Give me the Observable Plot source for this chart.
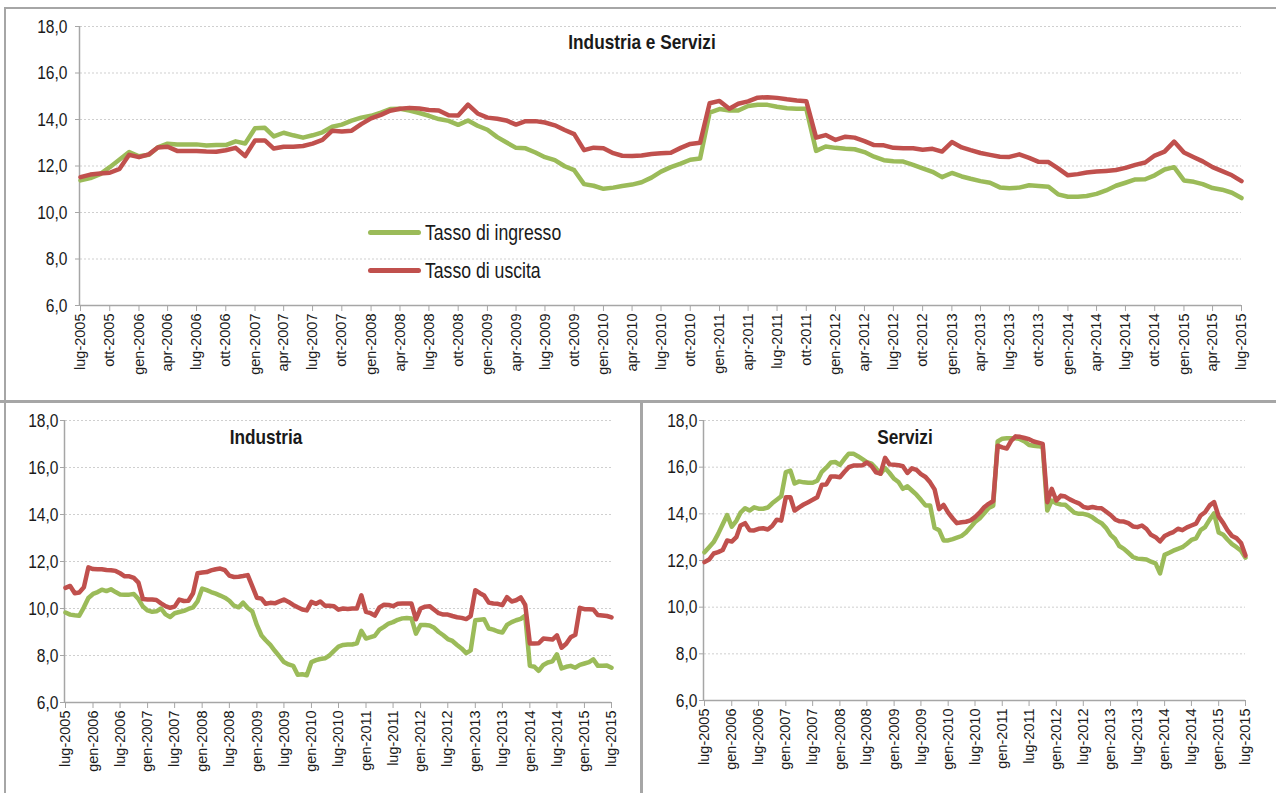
<!DOCTYPE html>
<html>
<head>
<meta charset="utf-8">
<script src="https://cdn.jsdelivr.net/npm/d3@7"></script>
<script src="https://cdn.jsdelivr.net/npm/@observablehq/plot@0.6"></script>
<style>
  html, body { margin:0; padding:0; background:#fff; }
  body { width:1276px; height:793px; overflow:hidden; position:relative; font-family:"Liberation Sans", Arial, sans-serif; }
  .rule { position:absolute; background:#a6a6a6; }
  .chart { position:absolute; }
  .title { position:absolute; font-family:"Liberation Sans Narrow","Arial Narrow","Liberation Sans",sans-serif; font-weight:bold; font-size:21px; color:#1a1a1a; transform:translate(-50%,-50%) scaleX(0.82); white-space:nowrap; }
  .legline { position:absolute; height:5px; border-radius:2.5px; }
  .legtext { position:absolute; font-family:"Liberation Sans Narrow","Arial Narrow","Liberation Sans",sans-serif; font-size:21.5px; color:#1a1a1a; transform-origin:0 50%; transform:translateY(-50%) scaleX(0.82); white-space:nowrap; }
</style>
</head>
<body>
<script>
// ---- Categories / tick labels ----
const monthAbbr = ["gen","feb","mar","apr","mag","giu","lug","ago","set","ott","nov","dic"];
const months = d3.utcMonth.range(new Date(Date.UTC(2005, 6, 1)), new Date(Date.UTC(2015, 7, 1))); // lug-2005 .. lug-2015
const yTicks = [6, 8, 10, 12, 14, 16, 18];
const panelTitles = ["Industria e Servizi", "Industria", "Servizi"];
const seriesNames = ["Tasso di ingresso", "Tasso di uscita"];
const seriesColors = ["#9bbb59", "#c0504d"];

// ---- Industria e Servizi ----
const totIngresso = [
 11.38,11.48,11.65,11.95,12.28,12.60,12.42,12.48,12.80,12.96,12.92,12.93,12.93,12.88,12.90,12.90,13.06,12.97,13.62,13.64,
 13.27,13.43,13.32,13.22,13.32,13.45,13.69,13.78,13.95,14.08,14.16,14.30,14.45,14.46,14.38,14.28,14.16,14.02,13.94,13.77,
 13.96,13.73,13.56,13.24,13.02,12.78,12.76,12.58,12.38,12.25,11.99,11.82,11.22,11.15,11.02,11.07,11.14,11.20,11.30,11.50,
 11.76,11.95,12.10,12.27,12.32,14.30,14.45,14.39,14.39,14.58,14.63,14.63,14.55,14.48,14.46,14.46,12.65,12.84,12.78,12.74,
 12.72,12.60,12.40,12.25,12.20,12.19,12.05,11.90,11.75,11.52,11.70,11.55,11.45,11.35,11.28,11.08,11.04,11.07,11.17,11.14,
 11.11,10.78,10.68,10.68,10.71,10.80,10.95,11.15,11.28,11.42,11.43,11.60,11.85,11.95,11.38,11.32,11.22,11.05,10.98,10.85,
 10.62];
const totUscita = [
 11.52,11.63,11.68,11.71,11.88,12.48,12.38,12.50,12.80,12.83,12.65,12.64,12.64,12.62,12.61,12.68,12.78,12.43,13.10,13.10,
 12.75,12.83,12.83,12.86,12.96,13.12,13.52,13.48,13.52,13.80,14.05,14.20,14.38,14.46,14.50,14.47,14.41,14.39,14.18,14.17,
 14.64,14.26,14.08,14.03,13.96,13.78,13.93,13.93,13.87,13.75,13.55,13.37,12.68,12.79,12.76,12.55,12.44,12.43,12.45,12.52,
 12.55,12.57,12.78,12.95,13.00,14.70,14.80,14.46,14.68,14.78,14.94,14.96,14.93,14.87,14.82,14.79,13.22,13.33,13.12,13.26,
 13.22,13.07,12.90,12.89,12.78,12.76,12.76,12.70,12.74,12.62,13.03,12.80,12.68,12.56,12.48,12.40,12.39,12.50,12.35,12.18,
 12.17,11.90,11.60,11.65,11.72,11.76,11.79,11.83,11.92,12.05,12.15,12.45,12.62,13.05,12.58,12.38,12.20,11.95,11.78,11.60,
 11.35];

// ---- Industria ----
const indIngresso = [
 9.83,9.74,9.71,9.69,10.05,10.45,10.62,10.70,10.80,10.74,10.82,10.70,10.60,10.59,10.59,10.62,10.40,10.08,9.92,9.86,
 9.88,10.00,9.75,9.64,9.80,9.85,9.90,9.98,10.05,10.30,10.85,10.78,10.70,10.63,10.55,10.46,10.33,10.12,10.05,10.25,
 10.02,9.88,9.30,8.85,8.65,8.45,8.20,7.96,7.72,7.62,7.56,7.18,7.20,7.16,7.72,7.80,7.85,7.88,8.00,8.20,
 8.38,8.45,8.47,8.47,8.52,9.05,8.72,8.78,8.84,9.10,9.22,9.36,9.42,9.52,9.58,9.60,9.58,8.93,9.30,9.30,
 9.28,9.18,9.00,8.86,8.70,8.62,8.45,8.30,8.10,8.22,9.50,9.52,9.54,9.15,9.10,9.02,8.98,9.30,9.42,9.50,
 9.56,9.70,7.56,7.52,7.35,7.60,7.70,7.75,8.05,7.45,7.52,7.56,7.48,7.60,7.66,7.72,7.84,7.56,7.56,7.57,
 7.48];
const indUscita = [
 10.88,10.96,10.65,10.68,10.90,11.75,11.68,11.67,11.67,11.64,11.63,11.60,11.50,11.37,11.37,11.30,11.10,10.40,10.38,10.38,
 10.36,10.22,10.10,10.03,10.08,10.38,10.32,10.33,10.65,11.50,11.53,11.55,11.62,11.67,11.70,11.63,11.40,11.34,11.35,11.38,
 11.42,10.95,10.46,10.42,10.20,10.24,10.22,10.30,10.38,10.28,10.15,10.05,9.96,9.92,10.28,10.20,10.30,10.12,10.12,10.10,
 9.95,10.00,9.98,10.00,10.00,10.56,9.86,9.80,9.70,10.05,10.16,10.15,10.10,10.20,10.21,10.21,10.21,9.54,10.00,10.08,
 10.10,9.95,9.80,9.74,9.74,9.68,9.63,9.60,9.55,9.68,10.78,10.65,10.55,10.25,10.21,10.20,10.14,10.48,10.30,10.35,
 10.47,10.15,8.51,8.51,8.52,8.72,8.70,8.68,8.86,8.33,8.50,8.78,8.88,10.03,9.97,9.97,9.96,9.72,9.70,9.68,
 9.62];

// ---- Servizi ----
const serIngresso = [
 12.35,12.57,12.79,13.14,13.55,13.95,13.45,13.70,14.05,14.24,14.14,14.28,14.22,14.22,14.27,14.45,14.60,14.75,15.79,15.85,
 15.30,15.39,15.35,15.33,15.33,15.42,15.80,15.98,16.20,16.22,16.10,16.36,16.58,16.58,16.47,16.34,16.22,16.15,15.95,15.72,
 15.96,15.75,15.50,15.35,15.07,15.18,15.00,14.82,14.60,14.36,14.36,13.40,13.30,12.86,12.86,12.92,12.98,13.05,13.20,13.42,
 13.65,13.80,14.02,14.25,14.35,17.10,17.22,17.24,17.24,17.24,17.20,17.10,16.95,16.92,16.90,16.86,14.14,14.57,14.45,14.40,
 14.39,14.22,14.05,14.00,14.00,13.95,13.85,13.71,13.60,13.40,13.10,12.92,12.62,12.50,12.33,12.15,12.08,12.06,12.04,11.95,
 11.88,11.45,12.24,12.33,12.42,12.50,12.57,12.72,12.88,12.95,13.30,13.43,13.75,14.02,13.20,13.10,12.90,12.70,12.57,12.42,
 12.12];
const serUscita = [
 11.93,12.04,12.30,12.36,12.45,12.86,12.81,13.00,13.50,13.60,13.30,13.29,13.36,13.38,13.33,13.48,13.75,13.71,14.71,14.71,
 14.14,14.28,14.40,14.50,14.60,14.71,15.25,15.26,15.60,15.60,15.57,15.80,16.00,16.07,16.07,16.08,16.20,16.05,15.78,15.72,
 16.40,16.12,16.10,16.08,16.04,15.75,15.95,15.88,15.70,15.58,15.35,15.05,14.20,14.38,14.05,13.80,13.60,13.64,13.66,13.72,
 13.86,14.05,14.28,14.43,14.55,16.92,16.85,16.80,17.12,17.32,17.30,17.25,17.20,17.10,17.05,17.00,14.50,15.07,14.57,14.78,
 14.74,14.62,14.53,14.45,14.30,14.25,14.29,14.25,14.24,14.10,13.95,13.76,13.68,13.67,13.60,13.46,13.43,13.50,13.35,13.10,
 13.00,12.82,13.05,13.15,13.22,13.36,13.30,13.42,13.50,13.58,13.93,14.07,14.36,14.50,13.88,13.60,13.30,13.05,12.96,12.75,
 12.21];

const NARROW = '"Liberation Sans Narrow","Arial Narrow","Liberation Sans",sans-serif';
const REGULAR = '"Liberation Sans",Arial,sans-serif';
const fmtMonth = d => monthAbbr[d.getUTCMonth()] + "-" + d.getUTCFullYear();
const fmtY = d => d.toFixed(1).replace(".", ",");

function styleTicks(svg) {
  const gx = svg.querySelector('g[aria-label="x-axis tick label"]');
  if (gx) { gx.setAttribute("font-size", "14.5"); gx.setAttribute("font-family", REGULAR); gx.style.fontSize = "14.5px"; }
  const gy = svg.querySelector('g[aria-label="y-axis tick label"]');
  if (gy) { gy.setAttribute("font-size", "19"); gy.setAttribute("font-family", NARROW); gy.style.fontSize = "19px"; }
  // narrow look for the y tick labels (Arial Narrow-like)
  svg.querySelectorAll('g[aria-label="y-axis tick label"] text').forEach(t => {
    const tr = t.getAttribute("transform");
    if (tr) {
      t.setAttribute("transform", tr + " scale(0.82,1)");
    } else {
      const x = +t.getAttribute("x") || 0, y = +t.getAttribute("y") || 0;
      t.removeAttribute("x"); t.removeAttribute("y");
      t.setAttribute("transform", `translate(${x},${y}) scale(0.82,1)`);
    }
  });
}

function makeChart({left, top, width, height, mL, mR, mT, mB, ing, usc, every, yPad}) {
  const rows = [];
  months.forEach((d, i) => rows.push({date: d, v: ing[i], s: seriesNames[0]}));
  months.forEach((d, i) => rows.push({date: d, v: usc[i], s: seriesNames[1]}));
  const xt = months.filter((d, i) => i % every === 0);
  const svg = Plot.plot({
    width, height,
    marginLeft: mL, marginRight: mR, marginTop: mT, marginBottom: mB,
    x: {type: "utc", domain: [months[0], months[months.length - 1]]},
    y: {domain: [6, 18]},
    color: {domain: seriesNames, range: seriesColors},
    style: {background: "transparent", overflow: "visible", color: "#1a1a1a"},
    marks: [
      Plot.gridY(yTicks.slice(1), {stroke: "#cfcfcf", strokeOpacity: 1, strokeDasharray: "2,2"}),
      Plot.axisY(yTicks, {label: null, tickFormat: fmtY, tickSize: 5, tickPadding: yPad, stroke: "#a6a6a6", fontSize: 19, fontFamily: NARROW, fill: "#1a1a1a"}),
      Plot.axisX(xt, {label: null, tickFormat: fmtMonth, tickRotate: -90, tickSize: 6, tickPadding: 2, stroke: "#a6a6a6", fontSize: 14.5, fontFamily: REGULAR, fill: "#1a1a1a"}),
      Plot.ruleY([6], {stroke: "#a6a6a6", strokeWidth: 1.5}),
      Plot.ruleX([months[0]], {stroke: "#a6a6a6", strokeWidth: 1.5, dx: -1}),
      Plot.line(rows, {x: "date", y: "v", z: "s", stroke: "s", strokeWidth: 4.5, strokeLinejoin: "round", strokeLinecap: "round"})
    ]
  });
  styleTicks(svg);
  svg.classList.add("chart");
  svg.style.left = left + "px";
  svg.style.top = top + "px";
  document.body.appendChild(svg);
}

function addDiv(cls, style, text) {
  const d = document.createElement("div");
  d.className = cls;
  Object.assign(d.style, style);
  if (text) d.textContent = text;
  document.body.appendChild(d);
  return d;
}

// frames
addDiv("rule", {left: "4px", top: "7px", width: "1272px", height: "2px"});
addDiv("rule", {left: "4px", top: "7px", width: "2px", height: "786px"});
addDiv("rule", {left: "0px", top: "400px", width: "1276px", height: "3px"});
addDiv("rule", {left: "640px", top: "400px", width: "3px", height: "393px"});

// charts
makeChart({left: 0, top: 0, width: 1276, height: 393, mL: 80, mR: 35, mT: 26, mB: 88, ing: totIngresso, usc: totUscita, every: 3, yPad: 8});
makeChart({left: 0, top: 400, width: 640, height: 393, mL: 65, mR: 29, mT: 20, mB: 91, ing: indIngresso, usc: indUscita, every: 6, yPad: 2});
makeChart({left: 640, top: 400, width: 636, height: 393, mL: 64, mR: 31, mT: 20, mB: 93, ing: serIngresso, usc: serUscita, every: 6, yPad: 2});

// titles
addDiv("title", {left: "642px", top: "42px"}, panelTitles[0]);
addDiv("title", {left: "266px", top: "437px"}, panelTitles[1]);
addDiv("title", {left: "905px", top: "437px"}, panelTitles[2]);

// legend
addDiv("legline", {left: "368px", top: "230px", width: "53px", background: seriesColors[0]});
addDiv("legtext", {left: "425px", top: "233px"}, seriesNames[0]);
addDiv("legline", {left: "368px", top: "268px", width: "53px", background: seriesColors[1]});
addDiv("legtext", {left: "425px", top: "271px"}, seriesNames[1]);
</script>
</body>
</html>
